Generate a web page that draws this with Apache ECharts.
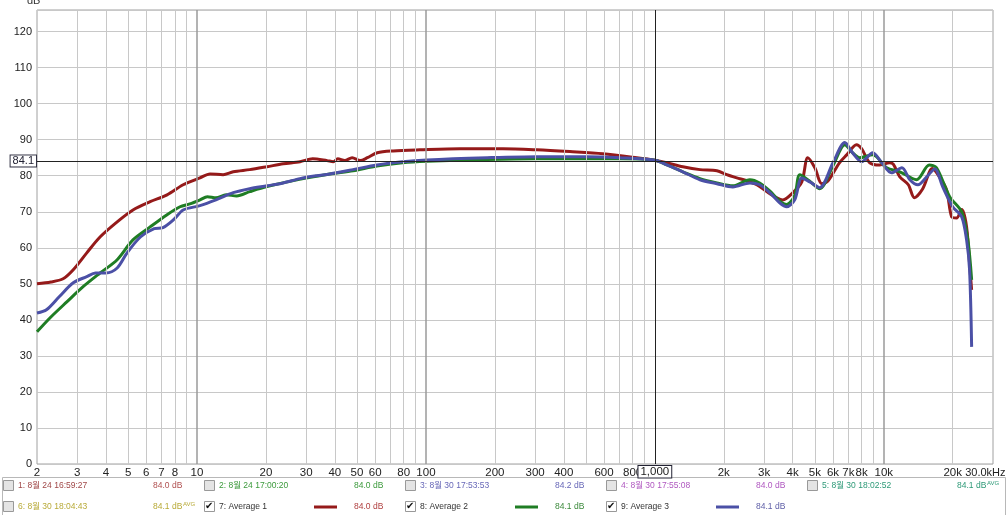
<!DOCTYPE html>
<html><head><meta charset="utf-8">
<script src="https://cdn.jsdelivr.net/npm/echarts@6/dist/echarts.min.js"></script>
<style>html,body{margin:0;padding:0;background:#fff}#c{width:1008px;height:515px}</style>
</head><body><div id="c"></div>
<script>
// ---- data (frequency Hz, level dB) ----
const avg1 = [[2,50],[2.3,50.5],[2.6,51.4],[2.88,53.9],[3.3,58.6],[3.77,63],[4.48,67.2],[5.25,70.5],[6.24,72.8],[7.4,74.7],[8.7,77.5],[10.3,79.4],[11.4,80.5],[13,80.3],[14.4,81.1],[17,81.7],[20.2,82.5],[23.8,83.3],[28.2,83.9],[32,84.7],[37,84.2],[39.4,83.9],[41.2,84.7],[44.2,84.2],[47.6,85],[51.6,84.2],[55.5,85],[61.3,86.4],[72,86.9],[94,87.2],[141,87.5],[217,87.5],[305,87.2],[425,86.7],[593,86.1],[834,85],[1000,84.3],[1128,83.6],[1325,82.5],[1574,81.7],[1866,81.4],[2061,80.3],[2281,79.4],[2524,78.6],[2787,77.5],[3083,75.6],[3410,73.9],[3622,73.3],[4009,75.3],[4385,78.3],[4656,85],[5000,82.2],[5358,77.8],[5700,78.5],[6400,83.6],[6890,85.8],[7600,88.6],[8000,87.5],[8690,83.6],[9612,83],[10600,83.6],[11000,83.2],[11750,79.7],[12800,77.5],[13600,73.9],[14800,76.4],[16300,82],[17500,79.7],[18800,76.1],[19800,68.6],[20800,68.3],[21900,70.6],[23000,65.8],[23800,54],[24200,48.3]];
const avg2 = [[2,36.7],[2.3,40.8],[2.7,45],[3.18,49.2],[3.77,53],[4.48,56.7],[5.25,62.2],[6.24,65.8],[7.4,69.2],[8.43,71.4],[9.3,72.2],[10.3,73.3],[11.1,74.2],[12.1,73.9],[13.4,74.7],[14.9,74.4],[17,75.6],[20.2,77],[28,79],[38,80.5],[48,81.4],[61,82.7],[79,83.6],[101,84],[185,84.5],[305,84.7],[505,84.7],[703,84.7],[1000,84.3],[1128,83],[1325,81.1],[1574,79.2],[1866,78],[2190,77.2],[2600,78.9],[2870,78],[3175,75.8],[3510,73],[3766,72],[4081,74.5],[4300,80.3],[4750,78.5],[5250,76.4],[6000,82.8],[6760,88.6],[7300,86.4],[7850,85],[8950,85.8],[10300,82.2],[11750,81.1],[13900,78.9],[15800,83],[17000,82.2],[19400,74.2],[21900,70],[23300,62.2],[24200,51.1]];
const avg3 = [[2,41.9],[2.2,42.8],[2.5,46.4],[2.88,50.3],[3.3,52],[3.6,53],[4,53],[4.48,54.4],[4.95,58.6],[5.66,63],[6.5,65.3],[7.1,65.6],[7.9,67.8],[8.7,70.5],[10.3,71.7],[12.1,73.3],[14.4,75.3],[17,76.4],[20.2,77.2],[23.8,78],[28.2,79.2],[33.3,80],[38,80.5],[48,81.7],[61,83],[79,83.9],[101,84.4],[185,85],[305,85.3],[505,85.3],[703,85],[1000,84.3],[1128,83],[1325,81.1],[1574,78.9],[1866,77.8],[2190,76.9],[2600,78],[2870,77.5],[3175,75.3],[3510,72.5],[3766,71.4],[4081,73.3],[4385,79.4],[4750,78.3],[5250,76.7],[6000,83.6],[6760,89.2],[7300,86.4],[8000,83.9],[8950,86.4],[9800,83.6],[10800,80.8],[12000,82.2],[13000,78.9],[14100,77.5],[15400,79.7],[16700,81.9],[18100,76.9],[20000,71.4],[21900,68.6],[23000,62.2],[23700,53.9],[24200,32.5]];

const gridFreqs = [3,4,5,6,7,8,9,10,20,30,40,50,60,70,80,90,100,200,300,400,500,600,700,800,900,2000,3000,4000,5000,6000,7000,8000,9000,10000,20000];
const majorFreqs = [10,100,10000];
const xTickValues = [2,3,4,5,6,7,8,10,20,30,40,50,60,80,100,200,300,400,600,800,2000,3000,4000,5000,6000,7000,8000,10000,20000,30000];
const xTickLabels = ['2','3','4','5','6','7','8','10','20','30','40','50','60','80','100','200','300','400','600','800','2k','3k','4k','5k','6k','7k','8k','10k','20k','30.0kHz'];
const cursorFreq = 1000, cursorFreqLabel = '1,000';
const cursorLevel = 84.1, cursorLevelLabel = '84.1';

const legendLabels = [
  ['1: 8월 24 16:59:27','2: 8월 24 17:00:20','3: 8월 30 17:53:53','4: 8월 30 17:55:08','5: 8월 30 18:02:52'],
  ['6: 8월 30 18:04:43','7: Average 1','8: Average 2','9: Average 3']
];
const legendValues = [
  ['84.0 dB','84.0 dB','84.2 dB','84.0 dB','84.1 dB'],
  ['84.1 dB','84.0 dB','84.1 dB','84.1 dB']
];
const legendAvg = [[false,false,false,false,true],[true,false,false,false]];
const legendChecked = [[false,false,false,false,false],[false,true,true,true]];

// ---- styles ----
const RED='#951a1a', GREEN='#1f7d24', BLUE='#4b50a6';
const rowLabelColors=[['#a04848','#3c9a3c','#6868b8','#b058c0','#2e9a78'],['#b8aa38','#333','#333','#333']];
const rowValueColors=[['#b05050','#3c9a3c','#6868b8','#b058c0','#2e9a78'],['#b8aa38','#b04040','#3c8a3c','#6060a8']];
const sampleColors=[null,RED,GREEN,BLUE];
const FONT="'Liberation Sans','Noto Sans CJK KR',sans-serif";

const graphics=[
  {type:'rect',shape:{x:2.5,y:477.5,width:1003,height:40},style:{fill:'#fff',stroke:'#b8b8b8',lineWidth:1},silent:true},
  {type:'text',x:27,y:-5,style:{text:'dB',font:'11px '+FONT,fill:'#333'}}
];
const rowY=[486,507];
for(let r=0;r<2;r++){
  for(let i=0;i<legendLabels[r].length;i++){
    const x0=3+201*i, y=rowY[r];
    graphics.push({type:'rect',shape:{x:x0+0.5,y:y-5.5,width:10,height:10},style:{fill:legendChecked[r][i]?'#fff':'#e4e4e4',stroke:'#999',lineWidth:1},silent:true});
    if(legendChecked[r][i]) graphics.push({type:'text',x:x0+1,y:y-6,style:{text:'✔',font:'bold 10px DejaVu Sans',fill:'#111'}});
    graphics.push({type:'text',x:x0+15,y:y,style:{text:legendLabels[r][i],font:'8.5px '+FONT,fill:rowLabelColors[r][i],verticalAlign:'middle'}});
    if(r===1&&sampleColors[i]) graphics.push({type:'line',shape:{x1:x0+110,y1:y,x2:x0+133,y2:y},style:{stroke:sampleColors[i],lineWidth:3}});
    graphics.push({type:'text',x:153+201*i,y:y,style:{text:legendValues[r][i],font:'8.5px '+FONT,fill:rowValueColors[r][i],verticalAlign:'middle'}});
    if(legendAvg[r][i]) graphics.push({type:'text',x:153+201*i+30,y:y-3,style:{text:'AVG',font:'6px '+FONT,fill:rowValueColors[r][i],verticalAlign:'middle'}});
  }
}

const chart=echarts.init(document.getElementById('c'),null,{renderer:'canvas'});
const lineSeries=(name,data,color)=>({name,type:'line',data,smooth:0.3,showSymbol:false,symbol:'none',z:3,
  lineStyle:{color,width:3},itemStyle:{color},emphasis:{disabled:true},animation:false,silent:true});
const HIDDEN={color:'rgba(0,0,0,0)',width:0.01,type:'solid'};
const lastIdx=xTickValues.length-1;

chart.setOption({
  animation:false,
  backgroundColor:'#fff',
  textStyle:{fontFamily:FONT},
  grid:{left:37,right:15,top:10,bottom:51,show:true,borderColor:'#a0a0a0',borderWidth:1,backgroundColor:'#fff'},
  xAxis:{type:'log',logBase:10,min:2,max:30000,axisLine:{show:false},axisTick:{show:false},axisLabel:{show:false},splitLine:{show:false}},
  yAxis:{type:'value',min:0,max:126,interval:10,axisLine:{show:false},axisTick:{show:false},
    axisLabel:{fontSize:11,color:'#222',margin:5,showMaxLabel:false},splitLine:{lineStyle:{color:'#c8c8c8',width:1}}},
  graphic:graphics,
  series:[
    {type:'line',data:[],z:1,silent:true,
      markLine:{silent:true,symbol:['none','none'],animation:false,label:{show:false},
        lineStyle:{color:'#c8c8c8',width:1,type:'solid'},
        data:gridFreqs.map(f=>({xAxis:f,lineStyle:majorFreqs.includes(f)?{color:'#9a9a9a',width:1.5,type:'solid'}:{color:'#c8c8c8',width:1,type:'solid'}}))
          .concat([
            {xAxis:cursorFreq,lineStyle:{color:'#222',width:1,type:'solid'}},
            {yAxis:cursorLevel,lineStyle:{color:'#222',width:1,type:'solid'}}
          ])
      }},
    lineSeries('Average 1',avg1,RED),
    lineSeries('Average 2',avg2,GREEN),
    lineSeries('Average 3',avg3,BLUE),
    {type:'line',data:[],z:5,silent:true,
      markLine:{silent:true,symbol:['none','none'],animation:false,
        lineStyle:HIDDEN,
        data:xTickValues.map((v,i)=>({xAxis:v,lineStyle:HIDDEN,label:{show:true,position:'start',
            formatter:(i===lastIdx)?xTickLabels[i]+'\u00a0\u00a0\u00a0\u00a0\u00a0':xTickLabels[i],
            fontSize:(i===lastIdx)?11:11.5,color:'#222',distance:3}}))
          .concat([
            {xAxis:cursorFreq,lineStyle:HIDDEN,label:{show:true,position:'start',formatter:cursorFreqLabel,fontSize:11.5,color:'#222',distance:2,
              backgroundColor:'#fff',borderColor:'#223',borderWidth:1,padding:[0,2,0,2]}},
            {yAxis:cursorLevel,lineStyle:HIDDEN,label:{show:true,position:'start',formatter:cursorLevelLabel,fontSize:11,color:'#223',distance:1,
              backgroundColor:'#fff',borderColor:'#334',borderWidth:1,padding:[0,2,0,2]}}
          ])
      }}
  ]
});
</script></body></html>
